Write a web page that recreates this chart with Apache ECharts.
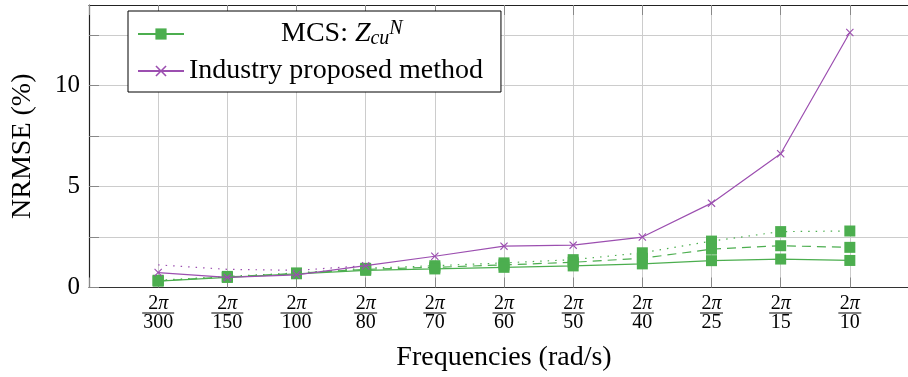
<!DOCTYPE html>
<html><head><meta charset="utf-8">
<script src="https://cdn.jsdelivr.net/npm/echarts@6/dist/echarts.min.js"></script>
<style>html,body{margin:0;padding:0;background:#fff}#c{width:908px;height:377px}</style>
</head><body><div id="c"></div>
<script>
// Frequencies 2*pi / denominator
const denominators = ['300','150','100','80','70','60','50','40','25','15','10'];
const yTickLabels = [0, 5, 10];
// MCS: Z_cu^N (three variants, same colour)
const mcsSolid  = [0.32, 0.50, 0.68, 0.85, 0.92, 1.00, 1.07, 1.17, 1.33, 1.41, 1.34];
const mcsDashed = [0.33, 0.52, 0.70, 0.90, 1.00, 1.12, 1.25, 1.45, 1.90, 2.07, 1.99];
const mcsDotted = [0.36, 0.55, 0.72, 0.95, 1.08, 1.22, 1.38, 1.72, 2.30, 2.77, 2.80];
// Industry proposed method
const industry       = [0.74, 0.50, 0.63, 1.08, 1.55, 2.05, 2.10, 2.50, 4.18, 6.63, 12.64];
const industryDotted = [1.12, 0.90, 0.85, 1.08];
const legendNames = ['MCS', 'Industry proposed method'];

const GREEN = '#4cae4f', PURPLE = '#9c4fb0';
const FONT = 'Liberation Serif';
const toPts = a => a.map((v, i) => [i, v]);
const xMark = 'path://M0,1L1,0L5,4L9,0L10,1L6,5L10,9L9,10L5,6L1,10L0,9L4,5Z';

const chart = echarts.init(document.getElementById('c'));
const axisCommonX = {type: 'value', min: -1, max: 11, interval: 1};
const axisCommonY = {type: 'value', min: 0, max: 14, interval: 2.5};
chart.setOption({
  animation: false,
  textStyle: {fontFamily: FONT},
  grid: {left: 89, top: 5, width: 830, height: 282.5, containLabel: false, outerBoundsMode: 'none'},
  legend: {
    data: legendNames, orient: 'vertical', left: 128, top: 11,
    padding: [6, 18, 6, 9], itemGap: 5, itemWidth: 46, itemHeight: 14,
    borderColor: '#000', borderWidth: 1, backgroundColor: '#fff', selectedMode: false,
    formatter: n => n === 'MCS'
      ? '{sp|}{t|MCS: }{z|Z}{sub|cu}{sup|N}'
      : '{t|' + n + '}',
    textStyle: {
      fontFamily: FONT, fontSize: 28, color: '#000', lineHeight: 30,
      rich: {
        sp: {width: 92, height: 10},
        t: {fontFamily: FONT, fontSize: 28, color: '#000', lineHeight: 30},
        z: {fontFamily: FONT, fontSize: 28, fontStyle: 'italic', color: '#000', lineHeight: 30},
        sub: {fontFamily: FONT, fontSize: 20, fontStyle: 'italic', color: '#000', verticalAlign: 'bottom', lineHeight: 30, padding: [12, 0, 0, 0]},
        sup: {fontFamily: FONT, fontSize: 20, fontStyle: 'italic', color: '#000', verticalAlign: 'top', lineHeight: 30, padding: [0, 0, 12, 0]}
      }
    }
  },
  xAxis: [
    Object.assign({}, axisCommonX, {
      position: 'bottom',
      name: 'Frequencies (rad/s)', nameLocation: 'middle', nameGap: 56,
      nameTextStyle: {fontFamily: FONT, fontSize: 28, color: '#000', lineHeight: 28},
      axisLine: {show: true, onZero: false, lineStyle: {color: '#333', width: 1.2}},
      axisTick: {show: true, inside: true, length: 10, lineStyle: {color: '#888'}},
      splitLine: {show: true, lineStyle: {color: '#cccccc', width: 1}},
      axisLabel: {
        margin: 9, showMinLabel: true, showMaxLabel: true,
        formatter: v => {
          const i = Math.round(v);
          if (i < 0 || i >= denominators.length) return '';
          const d = denominators[i];
          return '{n|2}{p|π}\n{' + (d.length > 2 ? 'b3' : 'b2') + '|}\n{d|' + d + '}';
        },
        rich: {
          n: {fontFamily: FONT, fontSize: 20, color: '#000', lineHeight: 15, align: 'center'},
          p: {fontFamily: FONT, fontSize: 20, fontStyle: 'italic', color: '#000', lineHeight: 15, align: 'center'},
          b3: {width: 32, height: 1, backgroundColor: '#000', lineHeight: 3, align: 'center'},
          b2: {width: 23, height: 1, backgroundColor: '#000', lineHeight: 3, align: 'center'},
          d: {fontFamily: FONT, fontSize: 20, color: '#000', lineHeight: 16, align: 'center'}
        }
      }
    }),
    Object.assign({}, axisCommonX, {
      position: 'top',
      axisLine: {show: true, onZero: false, lineStyle: {color: '#222', width: 1.2}},
      axisTick: {show: true, inside: true, length: 10, lineStyle: {color: '#888'}},
      axisLabel: {show: false}, splitLine: {show: false}
    })
  ],
  yAxis: [
    Object.assign({}, axisCommonY, {
      position: 'left',
      name: 'NRMSE (%)', nameLocation: 'middle', nameGap: 52,
      nameTextStyle: {fontFamily: FONT, fontSize: 28, color: '#000'},
      axisLine: {show: true, onZero: false, lineStyle: {color: '#222', width: 1.2}},
      axisTick: {show: true, inside: true, length: 10, lineStyle: {color: '#888'}},
      splitLine: {show: true, lineStyle: {color: '#cccccc', width: 1}},
      axisLabel: {
        margin: 9, showMaxLabel: false, fontFamily: FONT, fontSize: 25, color: '#000',
        formatter: v => yTickLabels.includes(v) ? String(v) : ''
      }
    }),
    Object.assign({}, axisCommonY, {
      position: 'right',
      axisLine: {show: true, onZero: false, lineStyle: {color: '#222', width: 1.2}},
      axisTick: {show: true, inside: true, length: 10, lineStyle: {color: '#888'}},
      axisLabel: {show: false}, splitLine: {show: false}
    })
  ],
  series: [
    {name: 'mcsDotted', type: 'line', data: toPts(mcsDotted), symbol: 'rect', symbolSize: 11,
     itemStyle: {color: GREEN}, lineStyle: {color: GREEN, width: 1.2, type: [1.5, 6]}, z: 2},
    {name: 'mcsDashed', type: 'line', data: toPts(mcsDashed), symbol: 'rect', symbolSize: 11,
     itemStyle: {color: GREEN}, lineStyle: {color: GREEN, width: 1.2, type: [9, 6]}, z: 2},
    {name: 'MCS', type: 'line', data: toPts(mcsSolid), symbol: 'rect', symbolSize: 11,
     itemStyle: {color: GREEN}, lineStyle: {color: GREEN, width: 1.2}, z: 3},
    {name: 'industryDotted', type: 'line', data: toPts(industryDotted), symbol: 'none',
     itemStyle: {color: PURPLE}, lineStyle: {color: PURPLE, width: 1.2, type: [1.5, 6]}, z: 4},
    {name: 'Industry proposed method', type: 'line', data: toPts(industry), symbol: xMark, symbolSize: 8,
     itemStyle: {color: PURPLE}, lineStyle: {color: PURPLE, width: 1.2}, z: 5}
  ]
});
</script></body></html>
